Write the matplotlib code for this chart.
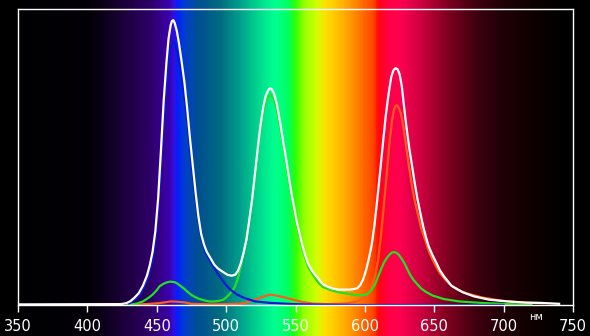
import numpy as np
import matplotlib
matplotlib.use('Agg')
from matplotlib import pyplot as plt
from matplotlib.colors import LinearSegmentedColormap, to_rgb

# (wavelength nm, relative intensity)
white_pts = [(350, 0.002), (424, 0.003), (428, 0.006), (431, 0.013), (434, 0.025), (437, 0.04),
             (440, 0.065), (443, 0.10), (445, 0.135), (447, 0.18), (449, 0.25), (451, 0.36),
             (453, 0.52), (455, 0.69), (457, 0.82), (458.5, 0.90), (460, 0.945), (461, 0.96),
             (462, 0.962), (463, 0.952), (464.5, 0.925), (466, 0.885), (468, 0.82), (470, 0.75),
             (472, 0.66), (474, 0.56), (476, 0.47), (478, 0.38), (480, 0.30), (482, 0.24),
             (484, 0.205), (486, 0.18), (488.5, 0.16), (491.5, 0.136), (494, 0.124), (497, 0.114),
             (501, 0.102), (504, 0.099), (506.5, 0.102), (508.5, 0.115), (510.5, 0.14),
             (512.5, 0.175), (514.6, 0.22), (516.5, 0.28), (518.7, 0.356), (520.7, 0.44),
             (522.7, 0.525), (524.7, 0.605), (526.8, 0.67), (528.5, 0.705), (530, 0.722),
             (531, 0.73), (532, 0.732), (533, 0.728), (534.5, 0.715), (536.5, 0.68), (539, 0.615),
             (541, 0.555), (543, 0.50), (545, 0.44), (547, 0.38), (549, 0.33), (551, 0.28),
             (553, 0.24), (555, 0.20), (557, 0.168), (559, 0.14), (562, 0.115), (565, 0.097),
             (570, 0.069), (575.6, 0.057), (581, 0.052), (589, 0.052), (592, 0.054),
             (594.6, 0.057), (596.8, 0.068), (598.7, 0.086), (600.7, 0.115), (602.7, 0.153),
             (604.8, 0.20), (606.8, 0.266), (608.8, 0.35), (610.9, 0.446), (613, 0.545),
             (615, 0.637), (617, 0.71), (619, 0.77), (620.5, 0.792), (622, 0.80), (623.5, 0.797),
             (625, 0.78), (626.6, 0.74), (628, 0.68), (630, 0.60), (632, 0.53), (634, 0.47),
             (636, 0.41), (638, 0.356), (640, 0.31), (642, 0.266), (644, 0.23), (646, 0.198),
             (648.8, 0.168), (651.6, 0.142), (654, 0.118), (657, 0.097), (662.4, 0.065),
             (670.5, 0.043), (678.7, 0.029), (689.5, 0.018), (703, 0.012), (716.6, 0.008),
             (727.5, 0.007), (740, 0.004)]

blue_pts = [(430, 0.005), (434, 0.018), (437, 0.03), (440, 0.052), (443, 0.085), (445, 0.115),
            (447, 0.155), (449, 0.22), (451, 0.32), (453, 0.47), (455, 0.62), (457, 0.74),
            (458.5, 0.82), (460, 0.87), (461, 0.885), (462, 0.89), (463, 0.882), (464.5, 0.86),
            (466, 0.83), (468, 0.77), (470, 0.70), (472, 0.62), (474, 0.53), (476, 0.44),
            (478, 0.36), (480, 0.285), (482, 0.23), (484, 0.195), (486, 0.17), (488.5, 0.15),
            (491.5, 0.125), (494, 0.105), (497, 0.086), (499.5, 0.07), (502, 0.057), (505, 0.045),
            (508, 0.035), (513, 0.024), (521, 0.012), (532, 0.007), (548.5, 0.003),
            (567, 0.001), (600, 0.0), (650, 0.0), (700, 0.0)]

green_pts = [(429, 0.0), (435, 0.004), (440, 0.012), (444, 0.024), (447, 0.035), (450, 0.05),
             (452, 0.063), (455, 0.072), (457.6, 0.077), (460, 0.079), (463, 0.077), (465, 0.072),
             (467, 0.065), (470, 0.054), (472.6, 0.043), (475, 0.034), (478, 0.026),
             (481, 0.02), (484.8, 0.015), (488, 0.012), (491.5, 0.012), (495, 0.014),
             (498, 0.018), (500, 0.025), (502, 0.035), (504.5, 0.048), (506.5, 0.063),
             (508.5, 0.09), (510.5, 0.13), (512.5, 0.17), (514.6, 0.22), (516.5, 0.28),
             (518.7, 0.35), (520.7, 0.43), (522.7, 0.515), (524.7, 0.595), (526.8, 0.655),
             (528.5, 0.685), (530, 0.70), (531, 0.708), (532, 0.71), (533, 0.706), (534.5, 0.695),
             (536.5, 0.66), (539, 0.60), (541, 0.545), (543, 0.49), (545, 0.43), (547, 0.37),
             (549, 0.32), (551, 0.27), (553, 0.23), (555, 0.19), (557, 0.16), (559, 0.13),
             (562, 0.106), (565, 0.085), (567.5, 0.07), (570, 0.06), (575.6, 0.05), (581, 0.043),
             (589, 0.037), (596, 0.032), (601, 0.035), (603, 0.042), (605, 0.052), (607.5, 0.072),
             (609.6, 0.097), (611.6, 0.12), (613.6, 0.142), (615.7, 0.158), (617.7, 0.17),
             (619.5, 0.177), (621, 0.179), (622.5, 0.177), (624.4, 0.17), (626.4, 0.157),
             (628.4, 0.142), (630.5, 0.122), (632.6, 0.102), (635, 0.085), (638, 0.069),
             (640.5, 0.056), (643.4, 0.046), (648.8, 0.032), (657, 0.02), (668, 0.012),
             (684, 0.007), (703, 0.003), (720, 0.001)]

red_pts = [(430, 0.0), (445, 0.004), (451, 0.006), (456, 0.009), (460, 0.012), (465, 0.011),
           (470, 0.009), (475, 0.004), (490, 0.002), (510, 0.004), (516, 0.01), (521, 0.018),
           (527, 0.029), (532, 0.035), (539, 0.029), (546, 0.021), (554, 0.011), (562, 0.005),
           (573, 0.003), (586.5, 0.005), (594.6, 0.012), (598, 0.02), (601, 0.029), (603, 0.042),
           (605, 0.063), (607.5, 0.1), (609.6, 0.153), (611.6, 0.235), (613.6, 0.333),
           (615.7, 0.44), (617.7, 0.547), (619.5, 0.62), (621, 0.66), (622, 0.672), (623, 0.675),
           (624.2, 0.668), (625.8, 0.65), (627.5, 0.61), (629.4, 0.547), (631.7, 0.47),
           (634, 0.40), (636, 0.35), (638, 0.31), (640.5, 0.26), (643.4, 0.22), (646, 0.183),
           (648.8, 0.153), (651.5, 0.128), (654, 0.108), (658, 0.085), (662.4, 0.065),
           (667, 0.051), (673, 0.04), (684, 0.026), (697.6, 0.015), (711, 0.009), (722, 0.007),
           (728, 0.006)]

xticks = [350, 400, 450, 500, 550, 600, 650, 700, 750]

# background spectrum stops (nm, colour)
spec_stops = [(337, '#000000'), (402, '#030008'), (425, '#1c0038'), (445, '#2e0068'),
              (458, '#3c00a8'), (462, '#3010e0'), (465, '#0020ff'), (470, '#0040c8'),
              (480, '#005090'), (495, '#006a80'), (510, '#00a08c'), (525, '#00e08e'),
              (535, '#00ff90'), (545, '#00ff60'), (550, '#30ff00'), (556, '#90ff00'),
              (565, '#d0ff00'), (572, '#ffe000'), (585, '#ffb000'), (598, '#ff7000'),
              (607, '#ff4000'), (610, '#ff0808'), (616, '#ff0040'), (625, '#ff0050'),
              (640, '#d00040'), (660, '#800020'), (680, '#400010'), (700, '#200008'),
              (720, '#100000'), (745, '#000000'), (763, '#000000')]

W, H = 590, 336
x0, x1 = 18, 573
y_bot, y_top = 305, 9
px_per_nm = (x1 - x0) / 400.0

fig = plt.figure(figsize=(W / 100, H / 100), dpi=100)
fig.patch.set_facecolor('black')

# background spectrum over whole figure
bg = fig.add_axes([0, 0, 1, 1])
lo = 350 - x0 / px_per_nm
hi = 350 + (W - x0) / px_per_nm
lo_s, hi_s = spec_stops[0][0], spec_stops[-1][0]
cmap = LinearSegmentedColormap.from_list(
    'spec', [((n - lo_s) / (hi_s - lo_s), to_rgb(c)) for n, c in spec_stops])
nm_grid = np.linspace(lo, hi, 800)
bg.imshow(((nm_grid - lo_s) / (hi_s - lo_s))[None, :], cmap=cmap, vmin=0, vmax=1,
          aspect='auto', extent=[lo, hi, 0, 1], interpolation='bilinear')
bg.set_xlim(lo, hi)
bg.axis('off')

ax = fig.add_axes([x0 / W, 1 - y_bot / H, (x1 - x0) / W, (y_bot - y_top) / H])
ax.patch.set_alpha(0)
for pts, col in [(red_pts, '#ff5a1e'), (green_pts, '#22e022'),
                 (blue_pts, '#0818d8'), (white_pts, 'white')]:
    nm, val = zip(*pts)
    ax.plot(nm, val, color=col, lw=1.6, solid_joinstyle='round')

ax.set_xlim(350, 750)
ax.set_ylim(0, 1)
ax.set_xticks(xticks)
ax.set_yticks([])
ax.tick_params(axis='x', colors='white', direction='out', length=5, width=1,
               labelsize=10.5, pad=5)
for s in ax.spines.values():
    s.set_color('white')
    s.set_linewidth(1)
ax.text(723, -0.025, 'нм', color='white', fontsize=7, ha='center', va='top',
        transform=ax.get_xaxis_transform())

fig.savefig('out.png', dpi=100, facecolor='black')
